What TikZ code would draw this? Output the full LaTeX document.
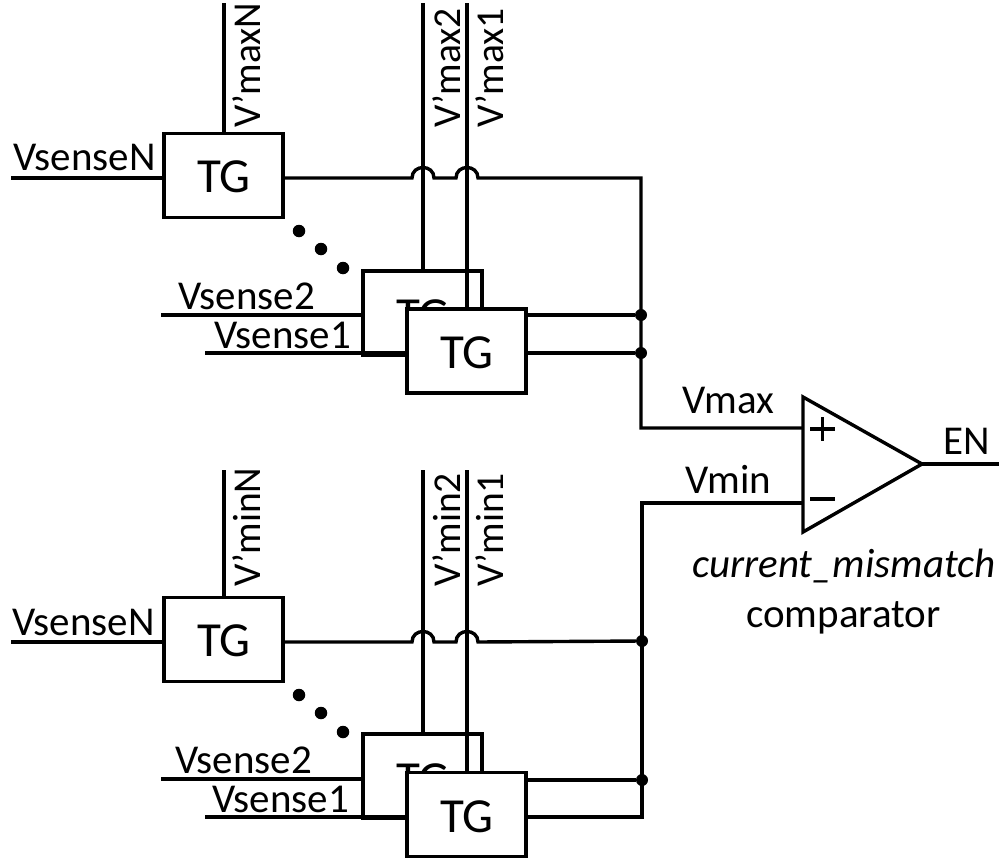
\documentclass[tikz,border=0pt]{standalone}
\usepackage{fontspec}
\setmainfont{Carlito}
\tikzset{
  wire/.style={line width=3.4pt,line join=miter},
  tgbox/.style={draw,fill=white,line width=3.8pt,minimum width=119pt,minimum height=84pt,inner sep=0pt,outer sep=0pt},
  tgtext/.style={inner sep=0pt,anchor=base,font=\fontsize{49}{52}\selectfont},
  lbl/.style={inner sep=0pt,anchor=base west,font=\fontsize{41}{45}\selectfont},
  vlbl/.style={inner sep=0pt,anchor=base west,rotate=90,font=\fontsize{39.5}{45}\selectfont},
  junc/.style={circle,fill=black,minimum size=12pt,inner sep=0pt},
  dotmark/.style={circle,fill=black,minimum size=12.5pt,inner sep=0pt},
}
\begin{document}
\begin{tikzpicture}[x=1pt,y=-1pt]
\useasboundingbox (0,0) rectangle (999,862);
% ---- upper group
\node[tgbox] (a1) at (223.5,175.5) {};
\node[tgtext] (a1t) at (224,192) {TG};
\node[tgbox] (a2) at (422.5,313) {};
\node[tgtext] (a2t) at (423,331) {TG};
\coordinate (a1in) at (11,178);
\coordinate (a2in) at (161,315);
\coordinate (a3in) at (205,353);
\coordinate (a1top) at (224,3);
\coordinate (a2top) at (423,3);
\coordinate (a3top) at (467,3);
\draw[wire] (a1in) -- (a1.west |- a1in);
\draw[wire] (a2in) -- (a2.west |- a2in);
\draw[wire] (a1top) -- (a1.north -| a1top);
\draw[wire] (a2top) -- (a2.north -| a2top);
\draw[wire] (a3top) -- (467,309);
\node[tgbox] (a3) at (466.5,351) {};
\node[tgtext] (a3t) at (467,368) {TG};
\draw[wire] (a3in) -- (a3.west |- a3in);
\node[junc] (ja2) at (641,315) {};
\node[junc] (ja3) at (641,353) {};
\coordinate (acorner) at (641,178);
\coordinate (vmaxc) at (641,428);
\coordinate (plusin) at (803,428);
\draw[wire] (a1.east |- acorner) -- (412,178) .. controls (412,164) and (434,164) .. (434,178) -- (456,178) .. controls (456,164) and (478,164) .. (478,178) -- (acorner) -- (vmaxc) -- (plusin);
\draw[wire] (a3.east |- ja2) -- (ja2);
\draw[wire] (a3.east |- ja3) -- (ja3);
\node[dotmark] (ad1) at (299,231) {};
\node[dotmark] (ad2) at (321,249) {};
\node[dotmark] (ad3) at (343,268) {};
\node[lbl] (l1) at (13,170) {VsenseN};
\node[lbl] (l2) at (178,309) {Vsense2};
\node[lbl] (l3) at (214,348) {Vsense1};
\node[vlbl] (l4) at (260,128) {V’maxN};
\node[vlbl] (l5) at (460,128) {V’max2};
\node[vlbl] (l6) at (503,128) {V’max1};
% ---- lower group
\node[tgbox] (b1) at (223.5,639.5) {};
\node[tgtext] (b1t) at (224,656) {TG};
\node[tgbox] (b2) at (422.5,776) {};
\node[tgtext] (b2t) at (423,795) {TG};
\coordinate (b1in) at (11,642);
\coordinate (b2in) at (161,779);
\coordinate (b3in) at (205,817);
\coordinate (b1top) at (224,470);
\coordinate (b2top) at (423,470);
\coordinate (b3top) at (467,470);
\draw[wire] (b1in) -- (b1.west |- b1in);
\draw[wire] (b2in) -- (b2.west |- b2in);
\draw[wire] (b1top) -- (b1.north -| b1top);
\draw[wire] (b2top) -- (b2.north -| b2top);
\draw[wire] (b3top) -- (467,772);
\node[tgbox] (b3) at (466.5,814.5) {};
\node[tgtext] (b3t) at (467,832) {TG};
\draw[wire] (b3in) -- (b3.west |- b3in);
\node[junc] (jb1) at (642,641) {};
\node[junc] (jb2) at (642,780) {};
\coordinate (bcorner) at (642,817);
\coordinate (vminc) at (642,503);
\coordinate (minusin) at (803,503);
\draw[wire] (b3.east |- bcorner) -- (bcorner) -- (vminc) -- (minusin);
\draw[wire] (b1.east |- 642,642) -- (412,642) .. controls (412,628) and (434,628) .. (434,642) -- (456,642) .. controls (456,628) and (478,628) .. (478,642) -- (jb1);
\draw[wire] (b3.east |- jb2) -- (jb2);
\node[dotmark] (bd1) at (299,695) {};
\node[dotmark] (bd2) at (321,713) {};
\node[dotmark] (bd3) at (343,732) {};
\node[lbl] (m1) at (12,635) {VsenseN};
\node[lbl] (m2) at (175,773) {Vsense2};
\node[lbl] (m3) at (212,812) {Vsense1};
\node[vlbl] (m4) at (260,587) {V’minN};
\node[vlbl] (m5) at (460,587) {V’min2};
\node[vlbl] (m6) at (503,587) {V’min1};
% ---- comparator
\coordinate (ct) at (803,397);
\coordinate (cb) at (803,532);
\coordinate (cap) at (922,464);
\coordinate (cout) at (999,464);
\draw[wire,line join=miter] (ct) -- (cap) -- (cb) -- cycle;
\draw[wire] (cap) -- (cout);
\draw[line width=3.4pt] (810,429) -- (835,429) (822.5,417) -- (822.5,441);
\draw[line width=3.4pt] (810,499) -- (835,499);
\node[lbl] (n1) at (682,413) {Vmax};
\node[lbl] (n2) at (685,493) {Vmin};
\node[lbl] (n3) at (943,454) {EN};
\node[lbl] (n4) at (692,577) {\itshape current\_mismatch};
\node[lbl] (n5) at (746,627) {comparator};
\end{tikzpicture}
\end{document}
